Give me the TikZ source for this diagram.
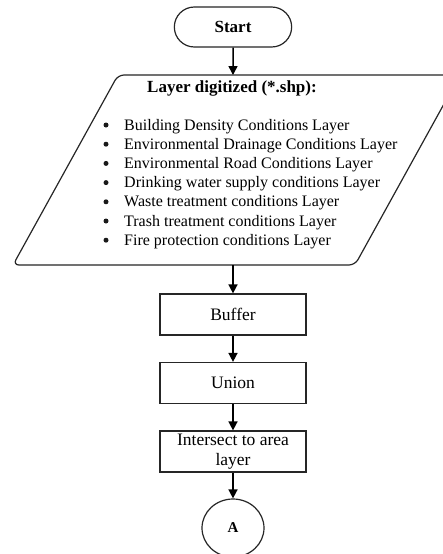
\documentclass[tikz,border=0pt]{standalone}
\usepackage{fontspec}
\setmainfont{Liberation Serif}
\usetikzlibrary{shapes.geometric,shapes.misc,arrows.meta}

\tikzset{
  terminal/.style={draw=black!85, line width=1.2pt, rounded rectangle, minimum width=124pt, minimum height=40pt, font=\fontsize{17}{20}\selectfont},
  process/.style={draw=black!85, line width=1.2pt, minimum width=146pt, minimum height=41pt, align=center, inner sep=2pt, font=\fontsize{17.5}{20}\selectfont},
  connector/.style={draw=black!85, line width=1.2pt, ellipse, minimum width=62pt, minimum height=58pt, font=\fontsize{15}{18}\selectfont},
  item/.style={anchor=base west, inner sep=0pt, font=\fontsize{16}{19}\selectfont},
  dot/.style={circle, fill=black!90, inner sep=0pt, minimum size=5pt},
  flow/.style={-{Triangle[length=9pt,width=9pt]}, line width=1.5pt},
}

\begin{document}
\begin{tikzpicture}[x=1pt,y=-1pt]
		\useasboundingbox (0,0) rectangle (443,554);
		\fill[white] (0,0) rectangle (443,554);

		% start
		\node[terminal] (start) at (233,27) {\textbf{Start}};

		% input layers (parallelogram)
		\draw[draw=black!85, line width=1.2pt, rounded corners=6pt] (118,75) -- (460,75) -- (355,265) -- (13,265) -- cycle;
		\coordinate (layers top) at (233,75);
		\coordinate (layers bottom) at (233,265);
		\node[font=\fontsize{17}{20}\selectfont] (title) at (232,88) {\textbf{Layer digitized (*.shp):}};
		\foreach \i/\txt in {0/Building Density Conditions Layer,
				1/Environmental Drainage Conditions Layer,
				2/Environmental Road Conditions Layer,
				3/Drinking water supply conditions Layer,
				4/Waste treatment conditions Layer,
				5/Trash treatment conditions Layer,
				6/Fire protection conditions Layer}{
			\node[dot] (bullet\i) at (106,125+19.2*\i) {};
			\node[item] (item\i) at (124,130+19.2*\i) {\txt};
		}

		% processing steps
		\node[process] (buffer) at (233,314.5) {Buffer};
		\node[process] (union) at (233,383) {Union};
		\node[process] (intersect) at (233,451.5) {Intersect to area\\layer};
		\node[connector] (a) at (233,528) {\textbf{A}};

		\draw[flow] (start) -- (layers top);
		\draw[flow] (layers bottom) -- (buffer);
		\draw[flow] (buffer) -- (union);
		\draw[flow] (union) -- (intersect);
		\draw[flow] (intersect) -- (a);
\end{tikzpicture}
\end{document}
